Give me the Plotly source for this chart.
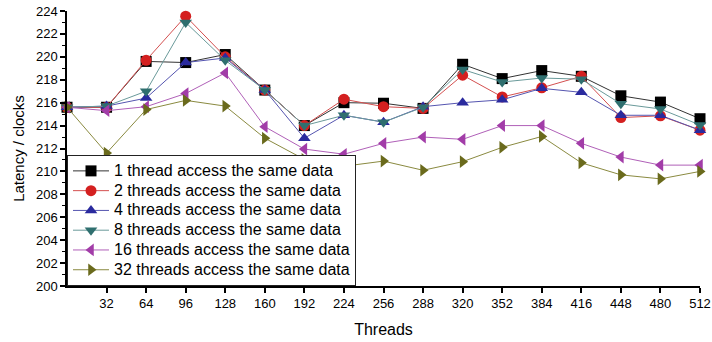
import plotly.graph_objects as go

threads = [0, 32, 64, 96, 128, 160, 192, 224, 256, 288, 320, 352, 384, 416, 448, 480, 512]
x_ticks = [32, 64, 96, 128, 160, 192, 224, 256, 288, 320, 352, 384, 416, 448, 480, 512]

s1 = [215.6, 215.6, 219.6, 219.5, 220.2, 217.1, 214.0, 216.0, 215.95, 215.5, 219.35, 218.1, 218.8, 218.3, 216.6, 216.05, 214.6]
s2 = [215.6, 215.6, 219.7, 223.55, 220.0, 217.1, 214.0, 216.3, 215.65, 215.5, 218.4, 216.5, 217.3, 218.3, 214.7, 214.85, 213.6]
s4 = [215.6, 215.7, 216.4, 219.5, 219.9, 217.1, 212.9, 214.9, 214.3, 215.65, 216.0, 216.25, 217.25, 216.9, 214.9, 214.9, 213.6]
s8 = [215.6, 215.7, 217.0, 223.0, 219.7, 217.1, 214.0, 214.9, 214.3, 215.6, 218.9, 217.8, 218.15, 218.05, 215.9, 215.45, 214.05]
s16 = [215.6, 215.3, 215.65, 216.8, 218.6, 213.9, 211.95, 211.5, 212.45, 213.0, 212.8, 214.0, 214.0, 212.45, 211.25, 210.55, 210.55]
s32 = [215.6, 211.6, 215.4, 216.2, 215.7, 212.9, 211.05, 210.45, 210.9, 210.1, 210.85, 212.1, 213.05, 210.75, 209.7, 209.35, 210.0]

names = [
    "1 thread access the same data",
    "2 threads access the same data",
    "4 threads access the same data",
    "8 threads access the same data",
    "16 threads access the same data",
    "32 threads access the same data",
]
series = [s1, s2, s4, s8, s16, s32]
symbols = ["square", "circle", "triangle-up", "triangle-down", "triangle-left", "triangle-right"]
marker_colors = ["#000000", "#d42020", "#2a2a9e", "#2f6f6f", "#a23ca8", "#6a6a1c"]
line_colors = ["#333333", "#d45050", "#5555b0", "#6a9a9a", "#b060b8", "#8a8a40"]

fig = go.Figure()
for name, ys, sym, mc, lc in zip(names, series, symbols, marker_colors, line_colors):
    fig.add_trace(go.Scatter(
        x=threads, y=ys, name="<span style='font-size:16px'>" + name + "</span>",
        mode="lines+markers",
        line=dict(color=lc, width=1),
        marker=dict(symbol=sym, size=11, color=mc, line=dict(width=0)),
        cliponaxis=False,
    ))

fig.update_layout(
    width=712, height=342,
    margin=dict(l=67, r=12, t=11, b=56),
    paper_bgcolor="white", plot_bgcolor="white",
    font=dict(family="Arial, Liberation Sans, sans-serif", color="black", size=13),
    showlegend=True,
    legend=dict(
        x=0.0, y=0.0, xanchor="left", yanchor="bottom",
        bgcolor="white", bordercolor="#222222", borderwidth=1,
        font=dict(size=12.9), tracegroupgap=0, itemwidth=36,
    ),
    xaxis=dict(
        range=[0, 512], tickvals=x_ticks, ticktext=[str(v) for v in x_ticks],
        automargin=False,
        showgrid=False, zeroline=False, showline=True, linecolor="black", linewidth=1.5,
        ticks="outside", ticklen=5, tickwidth=1.5, tickcolor="black",
        title=dict(text="Threads", font=dict(size=16), standoff=13),
    ),
    yaxis=dict(
        range=[200, 224], dtick=2, tick0=200,
        automargin=False,
        showgrid=False, zeroline=False, showline=True, linecolor="black", linewidth=1.5,
        ticks="outside", ticklen=5, tickwidth=1.5, tickcolor="black",
        minor=dict(dtick=1, ticks="outside", ticklen=3, tickcolor="black", tickwidth=1),
        title=dict(text="Latency / clocks", font=dict(size=15), standoff=8),
    ),
)

fig.write_html("out.html", post_script="document.body.style.margin='0';",
               config={"displayModeBar": False})
